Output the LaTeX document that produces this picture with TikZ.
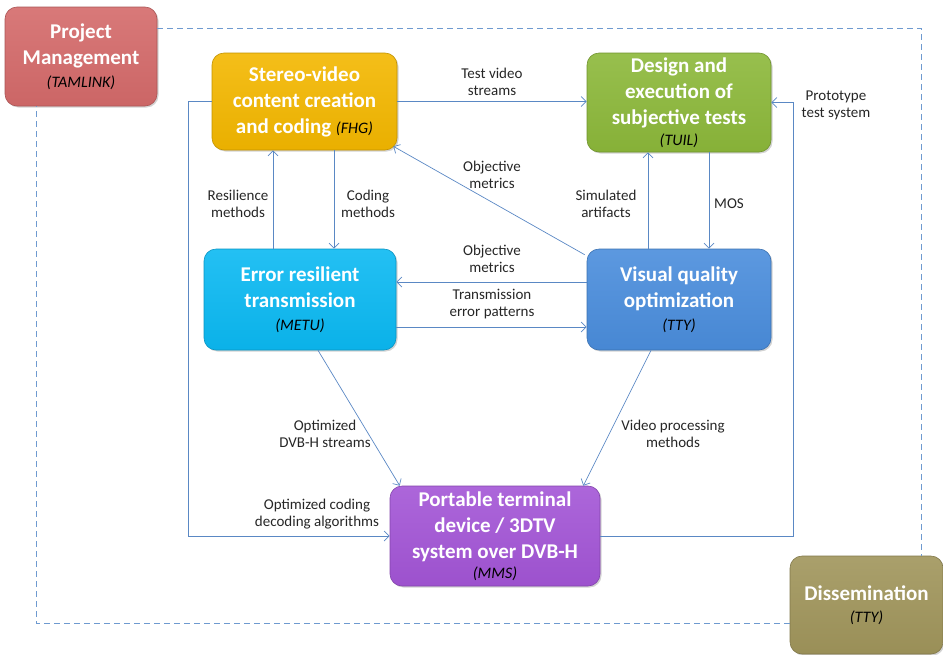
\documentclass[tikz,border=0pt]{standalone}
\usepackage{fontspec}
\setmainfont{Carlito}
\usetikzlibrary{arrows.meta,shadows}
\definecolor{cpm}{HTML}{D46A6A}
\definecolor{cst}{HTML}{F3B700}
\definecolor{cde}{HTML}{8CB83A}
\definecolor{cer}{HTML}{0BB9F2}
\definecolor{cvq}{HTML}{4A8DDC}
\definecolor{cpt}{HTML}{A355D6}
\definecolor{cdi}{HTML}{A0955B}
\definecolor{cln}{HTML}{5A88C4}
\definecolor{cdash}{HTML}{6E9AD0}
\tikzset{
  wp/.style={rounded corners=12pt, draw=#1!80!black, line width=0.6pt,
    top color=#1!90!white, bottom color=#1!96!black,
    drop shadow={shadow xshift=1.5pt,shadow yshift=-1.5pt,opacity=0.35},
    align=center, inner sep=0pt,
    font=\fontsize{21}{26}\selectfont\bfseries\color{white}},
  lbl/.style={align=center, inner sep=1pt, font=\fontsize{15}{17}\selectfont, text=black!85},
  flow/.style={draw=cln, line width=0.7pt, -{Straight Barb[length=5pt,width=10pt]}},
  dashline/.style={draw=cdash, line width=0.8pt, dash pattern=on 6pt off 4pt},
}
\newcommand{\who}[1]{{\fontsize{16}{20}\selectfont\mdseries\itshape\color{black}#1}}
\begin{document}
\begin{tikzpicture}[x=1pt,y=-1pt]
\useasboundingbox (0,0) rectangle (943,654);
% boxes
\node[wp=cpm, minimum width=152pt, minimum height=99pt] (pm) at (81,56.5) {Project\\Management\\[-3pt]\who{(TAMLINK)}};
\node[wp=cst, minimum width=185pt, minimum height=97pt] (st) at (304.5,101.5) {Stereo-video\\content creation\\and coding \who{(FHG)}};
\node[wp=cde, minimum width=184pt, minimum height=99pt] (de) at (679,102.5) {Design and\\execution of\\subjective tests\\[-5pt]\who{(TUIL)}};
\node[wp=cer, minimum width=192pt, minimum height=101pt] (er) at (300,299.5) {Error resilient\\transmission\\[-3pt]\who{(METU)}};
\node[wp=cvq, minimum width=184pt, minimum height=101pt] (vq) at (679,299.5) {Visual quality\\optimization\\[-3pt]\who{(TTY)}};
\node[wp=cpt, minimum width=210pt, minimum height=100pt] (pt) at (495,536) {Portable terminal\\device / 3DTV\\system over DVB-H\\[-6pt]\who{(MMS)}};
\node[wp=cdi, minimum width=153pt, minimum height=98pt] (di) at (866.5,605) {Dissemination\\[-4pt]\who{(TTY)}};
% helper coordinates
\coordinate (lx) at (188,0);
\coordinate (rx) at (793,0);
\coordinate (dx) at (921,0);
\coordinate (bx) at (36,0);
\coordinate (pmr) at ([yshift=28.5pt]pm.east);
\coordinate (dil) at ([yshift=-18pt]di.west);
% dashed management/dissemination loop
\draw[dashline] (pmr) -- (dx |- pmr) -- (dx |- di.north);
\draw[dashline] (dil) -- (bx |- dil) -- (bx |- pm.south);
% connectors
\draw[flow] (st.east) -- (de.west |- st.east);
\draw[flow] (pt.east) -- (rx |- pt.east) -- (rx |- de.east) -- (de.east);
\draw[flow] (st.west) -- (lx |- st.west) -- (lx |- pt.west) -- (pt.west);
\draw[flow] ([xshift=-27pt]er.north) -- ([xshift=-27pt]er.north |- st.south);
\draw[flow] ([xshift=34pt]er.north |- st.south) -- ([xshift=34pt]er.north);
\draw[flow] ([shift={(-2pt,-6pt)}]vq.north west) -- ([shift={(-4pt,4pt)}]st.south east);
\draw[flow] ([xshift=-31pt]vq.north) -- ([xshift=-31pt]de.south);
\draw[flow] ([xshift=30pt]de.south) -- ([xshift=30pt]vq.north);
\draw[flow] ([yshift=17.5pt]vq.west) -- ([yshift=17.5pt]er.east);
\draw[flow] ([yshift=-27.5pt]er.east) -- ([yshift=-27.5pt]vq.west);
\draw[flow] ([xshift=18pt]er.south) -- ([xshift=10pt]pt.north west);
\draw[flow] ([xshift=-28pt]vq.south) -- ([xshift=-17pt]pt.north east);
% labels
\node[lbl] (l1) at (492,82) {Test video\\streams};
\node[lbl] (l2) at (836,105.5) {Prototype\\test system};
\node[lbl] (l3) at (492,174.5) {Objective\\metrics};
\node[lbl] (l4) at (238,204) {Resilience\\methods};
\node[lbl] (l5) at (368,204) {Coding\\methods};
\node[lbl] (l6) at (606,204) {Simulated\\artifacts};
\node[lbl] (l7) at (729,204) {MOS};
\node[lbl] (l8) at (492,258.5) {Objective\\metrics};
\node[lbl] (l9) at (492,304) {Transmission\\error patterns};
\node[lbl] (l10) at (325,433.5) {Optimized\\DVB-H streams};
\node[lbl] (l11) at (673,433.5) {Video processing\\methods};
\node[lbl] (l12) at (317,514.5) {Optimized coding\\decoding algorithms};
\end{tikzpicture}
\end{document}
